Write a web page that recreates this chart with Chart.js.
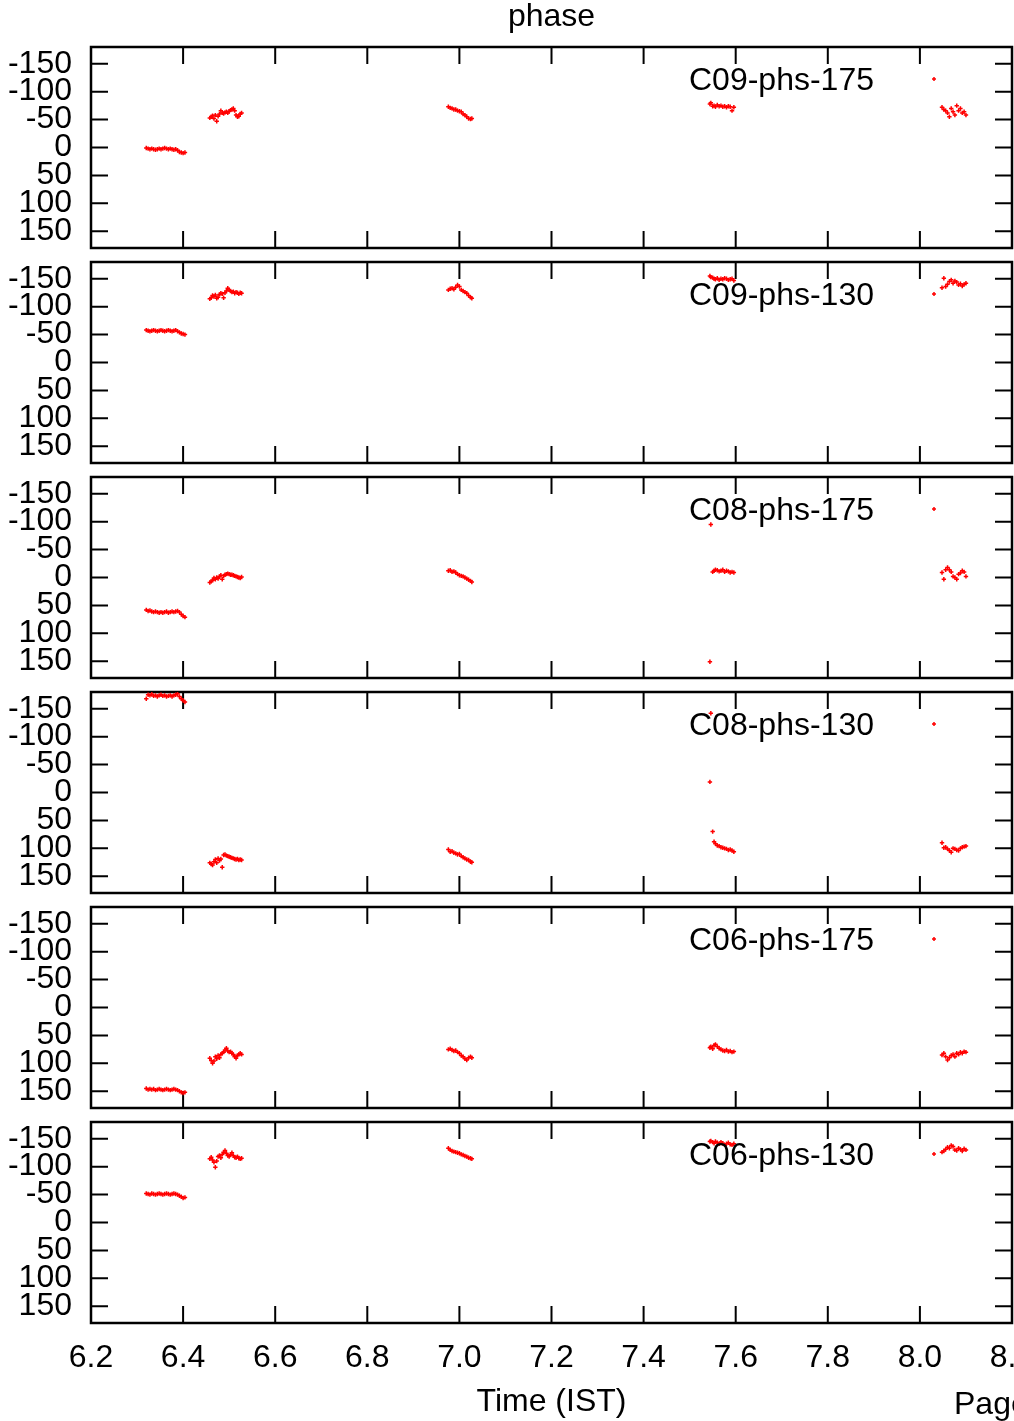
<!DOCTYPE html>
<html>
<head>
<meta charset="utf-8">
<title>phase</title>
<script src="https://cdn.jsdelivr.net/npm/chart.js@4.4.1/dist/chart.umd.min.js"></script>
<style>
  html, body { margin: 0; padding: 0; background: #fff; }
  #wrap { position: relative; width: 1014px; height: 1421px; overflow: hidden; }
  #wrap canvas { position: absolute; left: 0; }
</style>
</head>
<body>
<div id="wrap"></div>
<script>
// Sample times (IST, hours), one array per observing block
const tBlock1 = [6.320, 6.324, 6.328, 6.332, 6.336, 6.340, 6.344, 6.348, 6.352, 6.356, 6.360,
                 6.364, 6.368, 6.372, 6.376, 6.380, 6.384, 6.388, 6.392, 6.396, 6.400, 6.404];
const tBlock2 = [6.458, 6.461, 6.464, 6.467, 6.470, 6.473, 6.476, 6.479, 6.482, 6.485, 6.488, 6.491,
                 6.494, 6.497, 6.500, 6.503, 6.506, 6.509, 6.512, 6.515, 6.518, 6.521, 6.524, 6.527];
const tBlock3 = [6.976, 6.980, 6.984, 6.988, 6.992, 6.996, 7.000, 7.004, 7.008, 7.012, 7.016, 7.020, 7.024, 7.027];
const tBlock4 = [7.544, 7.546, 7.550, 7.553, 7.556, 7.560, 7.564, 7.568, 7.572, 7.576, 7.580, 7.584, 7.588, 7.592, 7.596];
const tBlock5 = [8.048, 8.052, 8.056, 8.060, 8.064, 8.068, 8.072, 8.076, 8.080, 8.084, 8.088, 8.092, 8.096, 8.100];
const timeBlocks = [tBlock1, tBlock2, tBlock3, tBlock4, tBlock5];

const xTicks = [6.2, 6.4, 6.6, 6.8, 7.0, 7.2, 7.4, 7.6, 7.8, 8.0, 8.2];
const yTicks = [-150, -100, -50, 0, 50, 100, 150];

const panelNames = ['C09-phs-175', 'C09-phs-130', 'C08-phs-175', 'C08-phs-130', 'C06-phs-175', 'C06-phs-130'];

// Phase (deg) per panel, one sub-array per time block
const c09_175 = [
  [1, 2, 3, 2, 3, 4, 3, 2, 3, 2, 1, 2, 3, 2, 3, 4, 3, 5, 8, 9, 10, 9],
  [-53, -55, -57, -52, -58, -47, -56, -60, -66, -62, -61, -63, -64, -62, -65, -67, -68, -70, -66, -58, -55, -56, -60, -62],
  [-73, -71, -70, -68, -68, -66, -65, -64, -60, -58, -55, -52, -51, -52],
  [-78, -80, -74, -75, -73, -76, -74, -75, -73, -74, -72, -74, -73, -66, -72],
  [-72, -68, -66, -62, -55, -70, -64, -58, -75, -66, -70, -62, -64, -58]
];
const c09_130 = [
  [-58, -57, -56, -57, -58, -57, -56, -57, -58, -57, -56, -57, -58, -57, -56, -57, -58, -56, -54, -52, -51, -50],
  [-114, -116, -120, -118, -121, -115, -117, -122, -124, -123, -116, -125, -128, -133, -130, -128, -126, -127, -124, -126, -125, -123, -125, -124],
  [-130, -132, -133, -131, -135, -139, -136, -130, -128, -126, -124, -120, -117, -115],
  [-155, -153, -152, -150, -149, -151, -148, -150, -149, -151, -150, -148, -149, -150, -147],
  [-134, -151, -136, -140, -145, -148, -142, -146, -144, -139, -141, -137, -140, -142]
];
const c08_175 = [
  [58, 60, 59, 61, 62, 61, 62, 63, 62, 63, 62, 61, 63, 62, 61, 62, 61, 60, 62, 66, 69, 71],
  [9, 7, 5, 1, 3, 0, 2, -2, -4, 3, -3, -5, -6, -7, -6, -5, -5, -4, -3, -2, -1, 0, 1, -1],
  [-12, -13, -10, -11, -9, -6, -4, -3, -2, 0, 2, 4, 6, 8],
  [151, -95, -10, -12, -14, -13, -11, -12, -14, -10, -12, -11, -9, -10, -9],
  [-9, 3, -14, -18, -14, -10, -2, 0, 3, -6, -8, -12, -10, -2]
];
const c08_130 = [
  [-168, -175, -174, -176, -173, -174, -172, -174, -175, -173, -174, -172, -173, -174, -172, -174, -175, -177, -172, -168, -165, -162],
  [126, 128, 130, 124, 120, 126, 118, 122, 119, 134, 112, 111, 113, 114, 115, 116, 117, 118, 119, 120, 119, 121, 120, 121],
  [102, 106, 105, 108, 109, 111, 110, 114, 116, 118, 120, 121, 124, 125],
  [-19, -142, 70, 88, 92, 95, 96, 98, 99, 100, 101, 103, 102, 104, 106],
  [90, 99, 98, 101, 104, 107, 100, 101, 103, 104, 100, 98, 97, 96]
];
const c06_175 = [
  [145, 147, 146, 147, 146, 148, 147, 146, 147, 148, 147, 146, 147, 148, 147, 146, 147, 148, 150, 152, 153, 152],
  [91, 95, 100, 96, 88, 92, 86, 90, 84, 82, 80, 76, 73, 78, 80, 79, 82, 84, 88, 91, 86, 84, 82, 84],
  [75, 74, 76, 78, 77, 80, 82, 86, 88, 92, 94, 90, 88, 90],
  [72, 70, 74, 68, 66, 70, 73, 75, 77, 78, 76, 79, 78, 80, 79],
  [85, 82, 88, 94, 90, 86, 84, 88, 82, 84, 80, 82, 79, 80]
];
const c06_130 = [
  [-52, -51, -50, -52, -51, -50, -51, -52, -51, -50, -51, -52, -51, -50, -51, -52, -51, -50, -48, -46, -44, -45],
  [-114, -117, -112, -108, -99, -110, -118, -120, -116, -122, -126, -129, -124, -120, -118, -122, -125, -120, -117, -116, -118, -115, -114, -115],
  [-133, -130, -128, -127, -126, -125, -124, -122, -121, -119, -118, -116, -115, -114],
  [-145, -146, -144, -142, -145, -143, -141, -144, -142, -139, -141, -143, -140, -139, -141],
  [-126, -128, -131, -135, -133, -138, -136, -130, -129, -133, -131, -128, -132, -130]
];
const panelValues = [c09_175, c09_130, c08_175, c08_130, c06_175, c06_130];

// Page layout (px)
const WIDTH = 1014, HEIGHT = 1421;
const PANEL_TOP = 47, PANEL_STEP = 215, PANEL_H = 201, MARGIN = 14;
const FONT = '"Liberation Sans", Arial, Helvetica, sans-serif';
const FONT_SIZE = 32;

Chart.defaults.font.family = FONT;
Chart.defaults.font.size = FONT_SIZE;
Chart.defaults.color = '#000';

// gnuplot style frame with inward ticks on all four sides, plus key and page texts
const gnuFrame = {
  id: 'gnuFrame',
  beforeDatasetsDraw(chart) {
    const {ctx, chartArea: a, scales: {x, y}} = chart;
    ctx.save();
    ctx.strokeStyle = '#000';
    ctx.lineWidth = 2;
    ctx.beginPath();
    xTicks.forEach(v => {
      const px = x.getPixelForValue(v);
      ctx.moveTo(px, a.bottom); ctx.lineTo(px, a.bottom - 17);
      ctx.moveTo(px, a.top); ctx.lineTo(px, a.top + 17);
    });
    yTicks.forEach(v => {
      const py = y.getPixelForValue(v);
      ctx.moveTo(a.left, py); ctx.lineTo(a.left + 17, py);
      ctx.moveTo(a.right, py); ctx.lineTo(a.right - 17, py);
    });
    ctx.stroke();
    ctx.lineWidth = 2.5;
    ctx.strokeRect(a.left, a.top, a.right - a.left, a.bottom - a.top);
    ctx.restore();
  },
  afterDraw(chart, args, opts) {
    const {ctx, chartArea: a} = chart;
    ctx.save();
    ctx.font = FONT_SIZE + 'px ' + FONT;
    ctx.fillStyle = '#000';
    ctx.textBaseline = 'alphabetic';
    ctx.textAlign = 'right';
    ctx.fillText(opts.label, a.right - 138, a.top + 43);

    // key sample point
    const kx = a.right - 78, ky = a.top + 32;
    ctx.strokeStyle = '#ff0000';
    ctx.lineWidth = 1.5;
    ctx.beginPath();
    ctx.moveTo(kx - 2, ky); ctx.lineTo(kx + 2, ky);
    ctx.moveTo(kx, ky - 2); ctx.lineTo(kx, ky + 2);
    ctx.stroke();

    if (opts.title) {
      ctx.textAlign = 'center';
      ctx.fillText(opts.title, (a.left + a.right) / 2, 26);
    }
    if (opts.footer) {
      ctx.textAlign = 'left';
      ctx.fillText(opts.footer, 954, chart.height - 7);
    }
    ctx.restore();
  }
};

const wrap = document.getElementById('wrap');

panelNames.forEach((name, i) => {
  const first = i === 0;
  const last = i === panelNames.length - 1;
  const top = first ? 0 : PANEL_TOP + PANEL_STEP * i - MARGIN;
  const padTop = first ? PANEL_TOP : MARGIN;
  const height = last ? HEIGHT - top : padTop + PANEL_H + MARGIN;
  const xAxisHeight = last ? height - padTop - PANEL_H : 0;

  const canvas = document.createElement('canvas');
  canvas.width = WIDTH;
  canvas.height = height;
  canvas.style.top = top + 'px';
  wrap.appendChild(canvas);

  const points = [];
  timeBlocks.forEach((times, b) => {
    times.forEach((t, k) => points.push({x: t, y: panelValues[i][b][k]}));
  });

  new Chart(canvas, {
    type: 'scatter',
    data: {
      datasets: [{
        label: name,
        data: points,
        pointStyle: 'cross',
        pointRadius: 2.2,
        pointHoverRadius: 2.2,
        pointBorderWidth: 1.5,
        borderColor: '#ff0000',
        backgroundColor: '#ff0000'
      }]
    },
    options: {
      responsive: false,
      animation: false,
      devicePixelRatio: 1,
      layout: {autoPadding: false, padding: {top: padTop, bottom: last ? 0 : MARGIN, left: 0, right: 2}},
      plugins: {
        legend: {display: false},
        tooltip: {enabled: false},
        gnuFrame: {label: name, title: first ? 'phase' : '', footer: last ? 'Page 1' : ''}
      },
      scales: {
        x: {
          type: 'linear',
          min: 6.2,
          max: 8.2,
          grid: {display: false, drawTicks: false},
          border: {display: false},
          afterBuildTicks: scale => { scale.ticks = xTicks.map(v => ({value: v})); },
          afterFit: scale => {
            scale.height = xAxisHeight;
            scale.paddingLeft = 0;
            scale.paddingRight = 0;
          },
          ticks: {
            display: last,
            autoSkip: false,
            maxRotation: 0,
            padding: 16,
            callback: v => v.toFixed(1)
          },
          title: {display: last, text: 'Time (IST)', padding: {top: 0, bottom: 0}}
        },
        y: {
          type: 'linear',
          min: -180,
          max: 180,
          reverse: true,
          grid: {display: false, drawTicks: false},
          border: {display: false},
          afterBuildTicks: scale => { scale.ticks = yTicks.map(v => ({value: v})); },
          afterFit: scale => {
            scale.width = 91;
            scale.paddingTop = 0;
            scale.paddingBottom = 0;
          },
          ticks: {autoSkip: false, padding: 19}
        }
      }
    },
    plugins: [gnuFrame]
  });
});
</script>
</body>
</html>
